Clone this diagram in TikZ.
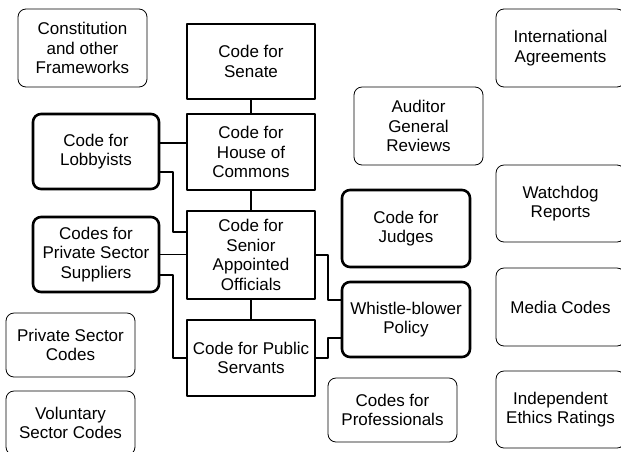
\documentclass[tikz,border=0pt]{standalone}
\usepackage{fontspec}
\setmainfont{Liberation Sans}
\begin{document}
\begin{tikzpicture}[x=1pt,y=-1pt,line join=round,
	font=\fontsize{17}{19.5}\selectfont,
	every node/.style={align=center,inner sep=0pt},
	outerbox/.style={draw,line width=0.8pt,rounded corners=8pt},
	codebox/.style={draw,line width=2.6pt,minimum width=128pt},
	otherbox/.style={draw,line width=2.6pt,rounded corners=8pt},
	link/.style={line width=1.8pt}]
	\clip (0,0) rectangle (621,451);
	% the codes in the middle
	\node[codebox,minimum height=75pt] (senate) at (251,61.5) {Code for\\Senate};
	\node[codebox,minimum height=76pt] (commons) at (251,152) {Code for\\House of\\Commons};
	\node[codebox,minimum height=88pt] (senior) at (251,255) {Code for\\Senior\\Appointed\\Officials};
	\node[codebox,minimum height=76pt] (public) at (251,358) {Code for Public\\Servants};
	\node[otherbox,minimum width=126pt,minimum height=75pt] (lobby) at (96,151.5) {Code for\\Lobbyists};
	\node[otherbox,minimum width=126pt,minimum height=75pt] (suppliers) at (96,254.5) {Codes for\\Private Sector\\Suppliers};
	\node[otherbox,minimum width=128pt,minimum height=77pt] (judges) at (406,228.5) {Code for\\Judges};
	\node[otherbox,minimum width=128pt,minimum height=75pt] (whistle) at (406,319.5) {Whistle-blower\\Policy};
	% the other frameworks round them
	\node[outerbox,minimum width=129pt,minimum height=78pt] (constitution) at (82.5,48) {Constitution\\and other\\Frameworks};
	\node[outerbox,minimum width=129pt,minimum height=64pt] (privcodes) at (70.5,345) {Private Sector\\Codes};
	\node[outerbox,minimum width=129pt,minimum height=64pt] (voluntary) at (70.5,423) {Voluntary\\Sector Codes};
	\node[outerbox,minimum width=129pt,minimum height=78pt] (auditor) at (418.5,126) {Auditor\\General\\Reviews};
	\node[outerbox,minimum width=129pt,minimum height=64pt] (professionals) at (392.5,410) {Codes for\\Professionals};
	\node[outerbox,minimum width=129pt,minimum height=78pt] (international) at (560.5,48) {International\\Agreements};
	\node[outerbox,minimum width=129pt,minimum height=77pt] (watchdog) at (560.5,203.5) {Watchdog\\Reports};
	\node[outerbox,minimum width=129pt,minimum height=78pt] (media) at (560.5,307) {Media Codes};
	\node[outerbox,minimum width=129pt,minimum height=77pt] (ethics) at (560.5,409.5) {Independent\\Ethics Ratings};
	% connectors
	\draw[link] (senate)--(commons) (commons)--(senior) (senior)--(public);
	\draw[link] ([yshift=8.5pt]lobby.east)--([yshift=8.5pt]lobby.east -| commons.west);
	\draw[link] ([yshift=-20.5pt]lobby.east)--++(13,0)|-([yshift=23pt]senior.west);
	\draw[link] (suppliers.east)--(suppliers.east -| senior.west);
	\draw[link] ([yshift=-20.5pt]suppliers.east)--++(13,0)|-(public.west);
	\draw[link] (senior.east)--++(12,0)|-([yshift=19.5pt]whistle.west);
	\draw[link] (public.east)--++(12,0)|-([yshift=-18.5pt]whistle.west);
\end{tikzpicture}
\end{document}
